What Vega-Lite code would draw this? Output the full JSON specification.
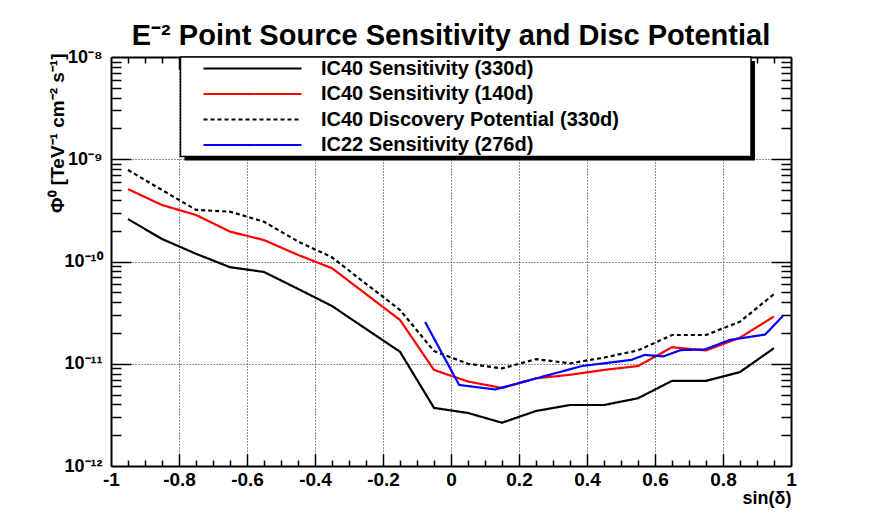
{
  "$schema": "https://vega.github.io/schema/vega-lite/v6.json",
  "width": 680,
  "height": 409,
  "autosize": {"type": "none"},
  "padding": {"left": 111, "top": 57, "right": 83, "bottom": 48},
  "background": "white",
  "title": {
    "text": "E⁻² Point Source Sensitivity and Disc Potential",
    "font": "Liberation Sans",
    "fontSize": 29,
    "fontWeight": "bold",
    "color": "black",
    "anchor": "middle",
    "offset": -3
  },
  "config": {
    "view": {"stroke": null},
    "font": "Liberation Sans",
    "legend": {
      "orient": "none",
      "legendX": 130,
      "legendY": 0,
      "padding": 0,
      "symbolType": "M-4.9,0H4.9",
      "symbolSize": 400,
      "symbolStrokeWidth": 2.2,
      "labelFont": "Liberation Sans",
      "labelFontSize": 20,
      "labelFontWeight": "bold",
      "labelColor": "black",
      "labelOffset": 57,
      "labelLimit": 500,
      "rowPadding": 3.5
    }
  },
  "datasets": {
    "curves": [
      {"series": "IC40 Sensitivity (330d)", "sindec": -0.95, "flux": 2.6e-10},
      {"series": "IC40 Sensitivity (330d)", "sindec": -0.85, "flux": 1.66e-10},
      {"series": "IC40 Sensitivity (330d)", "sindec": -0.75, "flux": 1.19e-10},
      {"series": "IC40 Sensitivity (330d)", "sindec": -0.65, "flux": 8.8e-11},
      {"series": "IC40 Sensitivity (330d)", "sindec": -0.55, "flux": 7.9e-11},
      {"series": "IC40 Sensitivity (330d)", "sindec": -0.45, "flux": 5.4e-11},
      {"series": "IC40 Sensitivity (330d)", "sindec": -0.35, "flux": 3.67e-11},
      {"series": "IC40 Sensitivity (330d)", "sindec": -0.25, "flux": 2.19e-11},
      {"series": "IC40 Sensitivity (330d)", "sindec": -0.15, "flux": 1.31e-11},
      {"series": "IC40 Sensitivity (330d)", "sindec": -0.05, "flux": 3.7e-12},
      {"series": "IC40 Sensitivity (330d)", "sindec": 0.05, "flux": 3.3e-12},
      {"series": "IC40 Sensitivity (330d)", "sindec": 0.15, "flux": 2.65e-12},
      {"series": "IC40 Sensitivity (330d)", "sindec": 0.25, "flux": 3.45e-12},
      {"series": "IC40 Sensitivity (330d)", "sindec": 0.35, "flux": 3.95e-12},
      {"series": "IC40 Sensitivity (330d)", "sindec": 0.45, "flux": 3.95e-12},
      {"series": "IC40 Sensitivity (330d)", "sindec": 0.55, "flux": 4.6e-12},
      {"series": "IC40 Sensitivity (330d)", "sindec": 0.65, "flux": 6.8e-12},
      {"series": "IC40 Sensitivity (330d)", "sindec": 0.75, "flux": 6.8e-12},
      {"series": "IC40 Sensitivity (330d)", "sindec": 0.85, "flux": 8.3e-12},
      {"series": "IC40 Sensitivity (330d)", "sindec": 0.95, "flux": 1.42e-11},
      {"series": "IC40 Sensitivity (140d)", "sindec": -0.95, "flux": 5.1e-10},
      {"series": "IC40 Sensitivity (140d)", "sindec": -0.85, "flux": 3.57e-10},
      {"series": "IC40 Sensitivity (140d)", "sindec": -0.75, "flux": 2.85e-10},
      {"series": "IC40 Sensitivity (140d)", "sindec": -0.65, "flux": 1.96e-10},
      {"series": "IC40 Sensitivity (140d)", "sindec": -0.55, "flux": 1.62e-10},
      {"series": "IC40 Sensitivity (140d)", "sindec": -0.45, "flux": 1.16e-10},
      {"series": "IC40 Sensitivity (140d)", "sindec": -0.35, "flux": 8.6e-11},
      {"series": "IC40 Sensitivity (140d)", "sindec": -0.25, "flux": 4.8e-11},
      {"series": "IC40 Sensitivity (140d)", "sindec": -0.15, "flux": 2.68e-11},
      {"series": "IC40 Sensitivity (140d)", "sindec": -0.05, "flux": 8.7e-12},
      {"series": "IC40 Sensitivity (140d)", "sindec": 0.05, "flux": 6.7e-12},
      {"series": "IC40 Sensitivity (140d)", "sindec": 0.15, "flux": 5.8e-12},
      {"series": "IC40 Sensitivity (140d)", "sindec": 0.25, "flux": 7.2e-12},
      {"series": "IC40 Sensitivity (140d)", "sindec": 0.35, "flux": 7.8e-12},
      {"series": "IC40 Sensitivity (140d)", "sindec": 0.45, "flux": 8.7e-12},
      {"series": "IC40 Sensitivity (140d)", "sindec": 0.55, "flux": 9.5e-12},
      {"series": "IC40 Sensitivity (140d)", "sindec": 0.65, "flux": 1.45e-11},
      {"series": "IC40 Sensitivity (140d)", "sindec": 0.75, "flux": 1.35e-11},
      {"series": "IC40 Sensitivity (140d)", "sindec": 0.85, "flux": 1.8e-11},
      {"series": "IC40 Sensitivity (140d)", "sindec": 0.95, "flux": 2.9e-11},
      {"series": "IC40 Discovery Potential (330d)", "sindec": -0.95, "flux": 7.85e-10},
      {"series": "IC40 Discovery Potential (330d)", "sindec": -0.85, "flux": 5.0e-10},
      {"series": "IC40 Discovery Potential (330d)", "sindec": -0.75, "flux": 3.2e-10},
      {"series": "IC40 Discovery Potential (330d)", "sindec": -0.65, "flux": 3.07e-10},
      {"series": "IC40 Discovery Potential (330d)", "sindec": -0.55, "flux": 2.45e-10},
      {"series": "IC40 Discovery Potential (330d)", "sindec": -0.45, "flux": 1.57e-10},
      {"series": "IC40 Discovery Potential (330d)", "sindec": -0.35, "flux": 1.1e-10},
      {"series": "IC40 Discovery Potential (330d)", "sindec": -0.25, "flux": 6.05e-11},
      {"series": "IC40 Discovery Potential (330d)", "sindec": -0.15, "flux": 3.36e-11},
      {"series": "IC40 Discovery Potential (330d)", "sindec": -0.05, "flux": 1.33e-11},
      {"series": "IC40 Discovery Potential (330d)", "sindec": 0.05, "flux": 1.0e-11},
      {"series": "IC40 Discovery Potential (330d)", "sindec": 0.15, "flux": 9.0e-12},
      {"series": "IC40 Discovery Potential (330d)", "sindec": 0.25, "flux": 1.11e-11},
      {"series": "IC40 Discovery Potential (330d)", "sindec": 0.35, "flux": 1.01e-11},
      {"series": "IC40 Discovery Potential (330d)", "sindec": 0.45, "flux": 1.15e-11},
      {"series": "IC40 Discovery Potential (330d)", "sindec": 0.55, "flux": 1.35e-11},
      {"series": "IC40 Discovery Potential (330d)", "sindec": 0.65, "flux": 1.91e-11},
      {"series": "IC40 Discovery Potential (330d)", "sindec": 0.75, "flux": 1.91e-11},
      {"series": "IC40 Discovery Potential (330d)", "sindec": 0.85, "flux": 2.58e-11},
      {"series": "IC40 Discovery Potential (330d)", "sindec": 0.95, "flux": 4.8e-11},
      {"series": "IC22 Sensitivity (276d)", "sindec": -0.076, "flux": 2.56e-11},
      {"series": "IC22 Sensitivity (276d)", "sindec": 0.024, "flux": 6.2e-12},
      {"series": "IC22 Sensitivity (276d)", "sindec": 0.13, "flux": 5.6e-12},
      {"series": "IC22 Sensitivity (276d)", "sindec": 0.385, "flux": 9.5e-12},
      {"series": "IC22 Sensitivity (276d)", "sindec": 0.53, "flux": 1.09e-11},
      {"series": "IC22 Sensitivity (276d)", "sindec": 0.57, "flux": 1.22e-11},
      {"series": "IC22 Sensitivity (276d)", "sindec": 0.625, "flux": 1.18e-11},
      {"series": "IC22 Sensitivity (276d)", "sindec": 0.675, "flux": 1.36e-11},
      {"series": "IC22 Sensitivity (276d)", "sindec": 0.747, "flux": 1.38e-11},
      {"series": "IC22 Sensitivity (276d)", "sindec": 0.82, "flux": 1.71e-11},
      {"series": "IC22 Sensitivity (276d)", "sindec": 0.924, "flux": 1.93e-11},
      {"series": "IC22 Sensitivity (276d)", "sindec": 0.976, "flux": 2.93e-11}
    ]
  },
  "resolve": {"axis": {"x": "independent", "y": "independent"}},
  "layer": [
    {
      "data": {"values": [{}]},
      "mark": {"type": "rect", "color": "black", "xOffset": 4, "x2Offset": 4, "yOffset": 4, "y2Offset": 4},
      "encoding": {
        "x": {
          "datum": -0.7956, "type": "quantitative",
          "scale": {"domain": [-1, 1], "nice": false, "zero": false},
          "axis": {
            "orient": "bottom",
            "values": [-1, -0.8, -0.6, -0.4, -0.2, 0, 0.2, 0.4, 0.6, 0.8, 1],
            "format": ".1~f",
            "labelExpr": "replace(datum.label, '\u2212', '-')",
            "ticks": false,
            "grid": true, "gridColor": "#222", "gridDash": [1, 2], "gridWidth": 1,
            "domain": true, "domainColor": "black", "domainWidth": 2,
            "labelFont": "Liberation Sans", "labelFontSize": 19, "labelFontWeight": "bold", "labelColor": "black",
            "labelPadding": 4, "labelFlush": false, "labelOverlap": false, "labelBound": false,
            "title": "sin(δ)", "titleFont": "Liberation Sans", "titleFontSize": 18, "titleFontWeight": "bold", "titleColor": "black",
            "titleAnchor": "end", "titleAlign": "right", "titleBaseline": "alphabetic", "titleX": 680, "titleY": 37
          }
        },
        "x2": {"datum": 0.8824},
        "y": {
          "datum": 1e-8, "type": "quantitative",
          "scale": {"type": "log", "domain": [1e-12, 1e-8], "nice": false},
          "axis": {
            "orient": "left",
            "values": [1e-12, 1e-11, 1e-10, 1e-9, 1e-8],
            "labelExpr": "datum.value > 5e-9 ? '10⁻⁸' : datum.value > 5e-10 ? '10⁻⁹' : datum.value > 5e-11 ? '10⁻¹⁰' : datum.value > 5e-12 ? '10⁻¹¹' : '10⁻¹²'",
            "ticks": false,
            "grid": true, "gridColor": "#222", "gridDash": [1, 2], "gridWidth": 1,
            "domain": true, "domainColor": "black", "domainWidth": 2,
            "labelFont": "Liberation Sans", "labelFontSize": 18, "labelFontWeight": "bold", "labelColor": "black",
            "labelPadding": 9, "labelFlush": false, "labelOverlap": false, "labelBound": false,
            "title": "Φ⁰ [TeV⁻¹ cm⁻² s⁻¹]", "titleFont": "Liberation Sans", "titleFontSize": 19, "titleFontWeight": "bold", "titleColor": "black",
            "titleAngle": 270, "titleAlign": "right", "titleBaseline": "middle", "titleX": -54, "titleY": -4
          }
        },
        "y2": {"datum": 1.064e-9}
      }
    },
    {
      "data": {"values": [{}]},
      "mark": {"type": "rect", "fill": "white", "stroke": "black", "strokeWidth": 1.5},
      "encoding": {
        "x": {
          "datum": -0.7956, "type": "quantitative",
          "axis": {
            "orient": "top", "values": [-0.8, -0.6, -0.4, -0.2, 0, 0.2, 0.4, 0.6, 0.8],
            "labels": false, "grid": false, "title": null,
            "domain": true, "domainColor": "black", "domainWidth": 2,
            "ticks": true, "tickSize": -12, "tickWidth": 1.5, "tickColor": "black"
          }
        },
        "x2": {"datum": 0.8824},
        "y": {
          "datum": 1e-8, "type": "quantitative",
          "axis": {
            "orient": "right", "values": [1e-11, 1e-10, 1e-9],
            "labels": false, "grid": false, "title": null,
            "domain": true, "domainColor": "black", "domainWidth": 2,
            "ticks": true, "tickSize": -20, "tickWidth": 1.5, "tickColor": "black"
          }
        },
        "y2": {"datum": 1.064e-9}
      }
    },
    {
      "data": {"name": "curves"},
      "transform": [{"filter": "datum.series === 'IC40 Sensitivity (330d)'"}],
      "mark": {"type": "line", "strokeWidth": 2.2},
      "encoding": {
        "x": {
          "field": "sindec", "type": "quantitative",
          "axis": {
            "orient": "bottom", "values": [-0.8, -0.6, -0.4, -0.2, 0, 0.2, 0.4, 0.6, 0.8],
            "labels": false, "grid": false, "title": null, "domain": false,
            "ticks": true, "tickSize": -12, "tickWidth": 1.5, "tickColor": "black"
          }
        },
        "y": {
          "field": "flux", "type": "quantitative",
          "axis": {
            "orient": "left", "values": [1e-11, 1e-10, 1e-9],
            "labels": false, "grid": false, "title": null, "domain": false,
            "ticks": true, "tickSize": -20, "tickWidth": 1.5, "tickColor": "black"
          }
        },
        "color": {
          "field": "series", "type": "nominal",
          "scale": {
            "domain": ["IC40 Sensitivity (330d)", "IC40 Sensitivity (140d)", "IC40 Discovery Potential (330d)", "IC22 Sensitivity (276d)"],
            "range": ["#000000", "#ff0000", "#000000", "#0000ff"]
          },
          "legend": {"title": null}
        },
        "strokeDash": {
          "field": "series", "type": "nominal",
          "scale": {
            "domain": ["IC40 Sensitivity (330d)", "IC40 Sensitivity (140d)", "IC40 Discovery Potential (330d)", "IC22 Sensitivity (276d)"],
            "range": [[1, 0], [1, 0], [4, 3], [1, 0]]
          },
          "legend": {"title": null}
        }
      }
    },
    {
      "data": {"name": "curves"},
      "transform": [{"filter": "datum.series === 'IC40 Sensitivity (140d)'"}],
      "mark": {"type": "line", "strokeWidth": 2.2},
      "encoding": {
        "x": {
          "field": "sindec", "type": "quantitative",
          "axis": {
            "orient": "bottom",
            "values": [-0.95, -0.9, -0.85, -0.75, -0.7, -0.65, -0.55, -0.5, -0.45, -0.35, -0.3, -0.25, -0.15, -0.1, -0.05, 0.05, 0.1, 0.15, 0.25, 0.3, 0.35, 0.45, 0.5, 0.55, 0.65, 0.7, 0.75, 0.85, 0.9, 0.95],
            "labels": false, "grid": false, "title": null, "domain": false,
            "ticks": true, "tickSize": -6, "tickWidth": 1.5, "tickColor": "black"
          }
        },
        "y": {
          "field": "flux", "type": "quantitative",
          "axis": {
            "orient": "left",
            "values": [2e-12, 3e-12, 4e-12, 5e-12, 6e-12, 7e-12, 8e-12, 9e-12, 2e-11, 3e-11, 4e-11, 5e-11, 6e-11, 7e-11, 8e-11, 9e-11, 2e-10, 3e-10, 4e-10, 5e-10, 6e-10, 7e-10, 8e-10, 9e-10, 2e-9, 3e-9, 4e-9, 5e-9, 6e-9, 7e-9, 8e-9, 9e-9],
            "labels": false, "grid": false, "title": null, "domain": false,
            "ticks": true, "tickSize": -10, "tickWidth": 1.5, "tickColor": "black"
          }
        },
        "color": {"field": "series", "type": "nominal", "legend": {"title": null}},
        "strokeDash": {"field": "series", "type": "nominal", "legend": {"title": null}}
      }
    },
    {
      "data": {"name": "curves"},
      "transform": [{"filter": "datum.series === 'IC40 Discovery Potential (330d)'"}],
      "mark": {"type": "line", "strokeWidth": 2.2},
      "encoding": {
        "x": {
          "field": "sindec", "type": "quantitative",
          "axis": {
            "orient": "top",
            "values": [-0.95, -0.9, -0.85, -0.75, -0.7, -0.65, -0.55, -0.5, -0.45, -0.35, -0.3, -0.25, -0.15, -0.1, -0.05, 0.05, 0.1, 0.15, 0.25, 0.3, 0.35, 0.45, 0.5, 0.55, 0.65, 0.7, 0.75, 0.85, 0.9, 0.95],
            "labels": false, "grid": false, "title": null, "domain": false,
            "ticks": true, "tickSize": -6, "tickWidth": 1.5, "tickColor": "black"
          }
        },
        "y": {
          "field": "flux", "type": "quantitative",
          "axis": {
            "orient": "right",
            "values": [2e-12, 3e-12, 4e-12, 5e-12, 6e-12, 7e-12, 8e-12, 9e-12, 2e-11, 3e-11, 4e-11, 5e-11, 6e-11, 7e-11, 8e-11, 9e-11, 2e-10, 3e-10, 4e-10, 5e-10, 6e-10, 7e-10, 8e-10, 9e-10, 2e-9, 3e-9, 4e-9, 5e-9, 6e-9, 7e-9, 8e-9, 9e-9],
            "labels": false, "grid": false, "title": null, "domain": false,
            "ticks": true, "tickSize": -10, "tickWidth": 1.5, "tickColor": "black"
          }
        },
        "color": {"field": "series", "type": "nominal", "legend": {"title": null}},
        "strokeDash": {"field": "series", "type": "nominal", "legend": {"title": null}}
      }
    },
    {
      "data": {"name": "curves"},
      "transform": [{"filter": "datum.series === 'IC22 Sensitivity (276d)'"}],
      "mark": {"type": "line", "strokeWidth": 2.2},
      "encoding": {
        "x": {"field": "sindec", "type": "quantitative", "axis": null},
        "y": {"field": "flux", "type": "quantitative", "axis": null},
        "color": {"field": "series", "type": "nominal", "legend": {"title": null}},
        "strokeDash": {"field": "series", "type": "nominal", "legend": {"title": null}}
      }
    }
  ]
}
